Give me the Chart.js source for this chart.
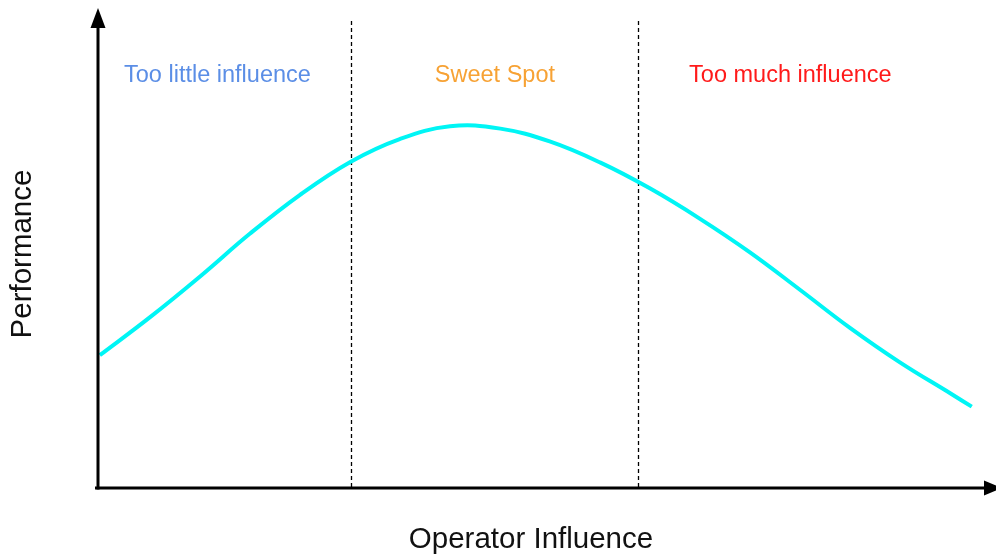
<!DOCTYPE html>
<html>
<head>
<meta charset="utf-8">
<title>Operator Influence vs Performance</title>
<script src="https://cdn.jsdelivr.net/npm/chart.js@4/dist/chart.umd.min.js"></script>
<style>
    html, body { margin: 0; padding: 0; background: #fff; }
    #wrap { width: 996px; height: 558px; }
</style>
</head>
<body>
<div id="wrap"><canvas id="chart" width="996" height="558"></canvas></div>
<script>
// ── Data ────────────────────────────────────────────────────
const influenceX   = [0.2, 5.8, 11.4, 16.9, 22.5, 28.1, 33.6, 39.2, 44.8, 50.3, 55.9, 61.5, 67.0, 72.6, 78.2, 83.7, 89.3, 94.9, 97.3];
const performanceY = [27.9, 35.9, 44.5, 53.4, 61.6, 68.5, 73.3, 76.0, 75.5, 72.8, 68.4, 62.9, 56.6, 49.5, 41.6, 33.7, 26.4, 19.9, 17.1];

const zoneBounds = [28.2, 60.1];
const zoneLabels = ['Too little influence', 'Sweet Spot', 'Too much influence'];
const zoneLabelX = [13.3, 44.2, 77.1];
const zoneLabelY = 86.6;
const zoneColors = ['#5b8ee6', '#f7a234', '#ff1a1a'];

const xTitle = 'Operator Influence';
const yTitle = 'Performance';

// ── Axes, arrows, zones, labels ─────────────────────────────
const diagramPlugin = {
    id: 'diagram',
    beforeDatasetsDraw(chart) {
        const { ctx, chartArea, scales } = chart;
        const y0 = chartArea.bottom;

        // dashed zone separators
        ctx.save();
        ctx.strokeStyle = '#000';
        ctx.lineWidth = 1.3;
        ctx.setLineDash([4, 3]);
        zoneBounds.forEach(b => {
            const px = Math.round(scales.x.getPixelForValue(b)) + 0.5;
            ctx.beginPath();
            ctx.moveTo(px, 21);
            ctx.lineTo(px, y0);
            ctx.stroke();
        });
        ctx.restore();

        // zone labels
        ctx.save();
        ctx.font = '23.5px "Liberation Sans", Arial, sans-serif';
        ctx.textAlign = 'center';
        ctx.textBaseline = 'middle';
        zoneLabels.forEach((t, i) => {
            ctx.fillStyle = zoneColors[i];
            ctx.fillText(t, scales.x.getPixelForValue(zoneLabelX[i]), scales.y.getPixelForValue(zoneLabelY));
        });
        ctx.restore();
    },
    afterDraw(chart) {
        const { ctx, chartArea } = chart;
        const x0 = chartArea.left, y0 = chartArea.bottom;

        ctx.save();
        ctx.strokeStyle = '#000';
        ctx.fillStyle = '#000';
        ctx.lineWidth = 3;

        // y axis + arrow
        ctx.beginPath();
        ctx.moveTo(x0, y0 + 1.5);
        ctx.lineTo(x0, 26);
        ctx.stroke();
        ctx.beginPath();
        ctx.moveTo(x0, 8);
        ctx.lineTo(x0 - 7.5, 28);
        ctx.lineTo(x0 + 7.5, 28);
        ctx.closePath();
        ctx.fill();

        // x axis + arrow
        ctx.beginPath();
        ctx.moveTo(x0 - 3, y0);
        ctx.lineTo(986, y0);
        ctx.stroke();
        ctx.beginPath();
        ctx.moveTo(1002, y0);
        ctx.lineTo(984, y0 - 7.5);
        ctx.lineTo(984, y0 + 7.5);
        ctx.closePath();
        ctx.fill();

        // axis titles
        ctx.font = '29.5px "Liberation Sans", Arial, sans-serif';
        ctx.fillStyle = '#111';
        ctx.textAlign = 'center';
        ctx.textBaseline = 'middle';
        ctx.fillText(xTitle, 531, 540);

        ctx.translate(23, 254);
        ctx.rotate(-Math.PI / 2);
        ctx.fillText(yTitle, 0, 0);
        ctx.restore();
    }
};

// ── Chart ───────────────────────────────────────────────────
function initChart() {
    const canvas = document.getElementById('chart');
    const points = influenceX.map((x, i) => ({ x, y: performanceY[i] }));

    new Chart(canvas, {
        type: 'line',
        data: {
            datasets: [{
                data: points,
                borderColor: '#00f5f5',
                borderWidth: 4,
                pointRadius: 0,
                tension: 0.4,
                fill: false
            }]
        },
        options: {
            responsive: false,
            animation: false,
            layout: { padding: { left: 98, right: 0, top: 12, bottom: 70 } },
            scales: {
                x: { type: 'linear', min: 0, max: 100, display: false },
                y: { type: 'linear', min: 0, max: 100, display: false }
            },
            plugins: {
                legend: { display: false },
                tooltip: { enabled: false }
            }
        },
        plugins: [diagramPlugin]
    });
}

document.addEventListener('DOMContentLoaded', initChart);
</script>
</body>
</html>
